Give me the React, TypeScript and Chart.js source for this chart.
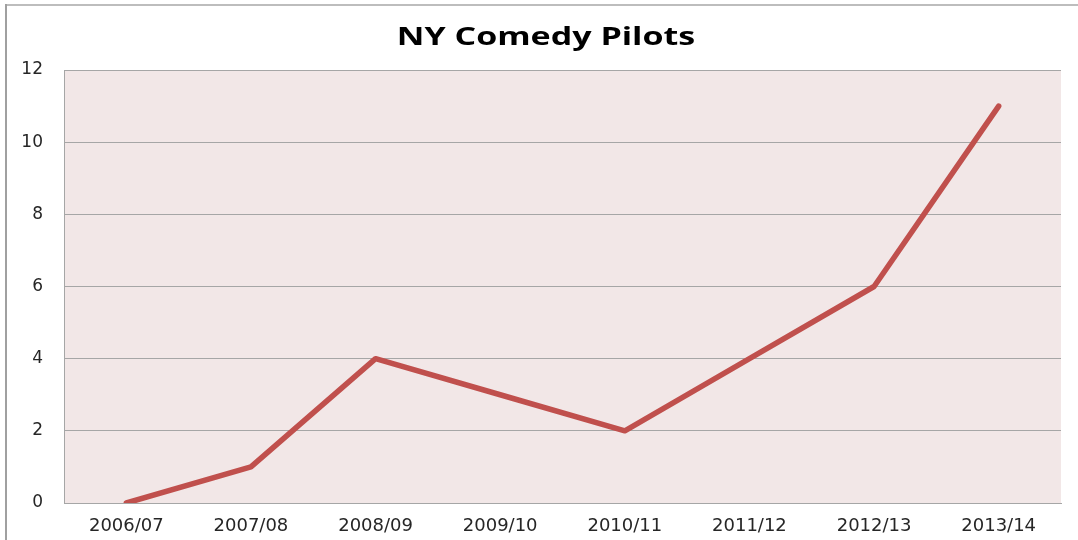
import React, { useEffect, useRef } from "react";
import { Chart, registerables } from "chart.js";

Chart.register(...registerables);

const categories = ["2006/07", "2007/08", "2008/09", "2009/10", "2010/11", "2011/12", "2012/13", "2013/14"];
const pilots = [0, 1, 4, 3, 2, 4, 6, 11];
const yMin = 0;
const yMax = 12;
const yStep = 2;
const titleText = "NY Comedy Pilots";

const plotBg = {
  id: "plotBg",
  beforeDraw(chart: any) {
    const { ctx, chartArea, width } = chart;
    if (!chartArea) return;
    ctx.save();
    // outer frame (left and top edges)
    ctx.strokeStyle = "#BDBDBD";
    ctx.lineWidth = 2;
    ctx.beginPath();
    ctx.moveTo(6, 5);
    ctx.lineTo(width, 5);
    ctx.stroke();
    ctx.strokeStyle = "#A0A0A0";
    ctx.beginPath();
    ctx.moveTo(6, 4);
    ctx.lineTo(6, chart.height);
    ctx.stroke();
    ctx.fillStyle = "#F2E7E7";
    ctx.fillRect(chartArea.left, chartArea.top, chartArea.right - chartArea.left, chartArea.bottom - chartArea.top);
    ctx.restore();
  },
};

// Title drawn with a horizontal stretch, as in the reference image
const stretchedTitle = {
  id: "stretchedTitle",
  afterDraw(chart: any) {
    const { ctx } = chart;
    ctx.save();
    ctx.font = "bold 25px 'Open Sans'";
    ctx.fillStyle = "#000000";
    ctx.textAlign = "center";
    ctx.textBaseline = "alphabetic";
    const sx = 1.36;
    ctx.translate(546, 45);
    ctx.scale(sx, 1);
    ctx.fillText(titleText, 0, 0);
    ctx.restore();
  },
};

export default function App() {
  const ref = useRef<HTMLCanvasElement | null>(null);
  useEffect(() => {
    if (!ref.current) return;
    const chart = new Chart(ref.current, {
      type: "line",
      data: {
        labels: categories,
        datasets: [
          {
            label: titleText,
            data: pilots,
            borderColor: "#C0504D",
            backgroundColor: "#C0504D",
            borderWidth: 5.5,
            pointRadius: 0,
            borderCapStyle: "round",
            borderJoinStyle: "round",
            tension: 0,
          },
        ],
      },
      plugins: [plotBg, stretchedTitle],
      options: {
        animation: false,
        responsive: false,
        maintainAspectRatio: false,
        layout: { padding: { left: 0, right: 17, top: 70, bottom: 0 } },
        plugins: {
          legend: { display: false },
          tooltip: { enabled: false },
          title: { display: false },
        },
        scales: {
          x: {
            offset: true,
            grid: { display: false, drawTicks: false },
            border: { display: true, color: "#A6A6A6", width: 1 },
            ticks: {
              color: "#262626",
              font: { family: "'DejaVu Sans'", size: 18 },
              padding: 13,
              maxRotation: 0,
              autoSkip: false,
            },
            afterFit: (s: any) => {
              s.height = 37;
            },
          },
          y: {
            min: yMin,
            max: yMax,
            grid: { color: "#A6A6A6", drawTicks: false, lineWidth: 1 },
            border: { display: true, color: "#A6A6A6", width: 1 },
            ticks: {
              stepSize: yStep,
              color: "#262626",
              font: { family: "'DejaVu Sans'", size: 17 },
              padding: 21,
            },
            afterFit: (s: any) => {
              s.width = 64;
            },
          },
        },
      },
    } as any);
    return () => chart.destroy();
  }, []);

  return (
    <div style={{ position: "fixed", left: 0, top: 0, width: 1078, height: 540, background: "#ffffff", overflow: "hidden" }}>
      <canvas ref={ref} width={1078} height={540} style={{ position: "absolute", left: 0, top: 0, width: 1078, height: 540 }} />
    </div>
  );
}
